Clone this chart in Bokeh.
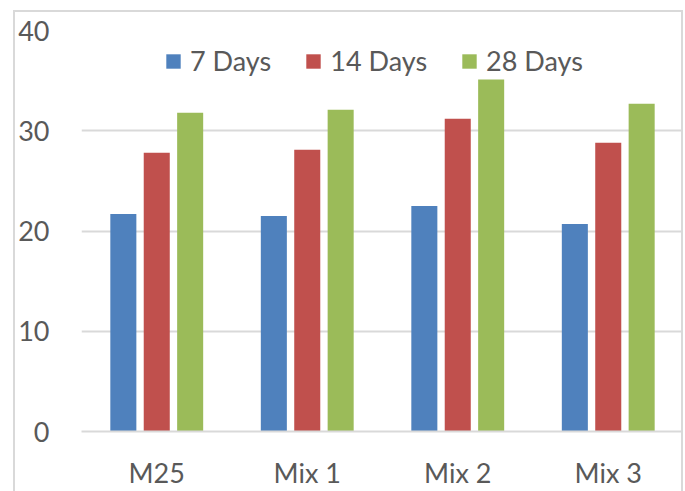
from bokeh.plotting import figure
from bokeh.models import ColumnDataSource, Range1d, FixedTicker, Legend, LegendItem, InlineStyleSheet
from bokeh.embed import file_html
from bokeh.resources import INLINE

categories = ["M25", "Mix 1", "Mix 2", "Mix 3"]
series_names = ["7 Days", "14 Days", "28 Days"]
days7 = [21.7, 21.5, 22.5, 20.7]
days14 = [27.8, 28.1, 31.2, 28.8]
days28 = [31.8, 32.1, 35.1, 32.7]
y_ticks = [0, 10, 20, 30, 40]
colors = ["#4F81BD", "#C0504D", "#9BBB59"]

FONT = "Lato"
FS = "27px"
TXT = "#595959"
GRID = "#D9D9D9"

W, H = 685, 491
LEFT, RIGHT, TOP, BOTTOM = 81, 3, 30, 57
x_end = (W - LEFT - RIGHT) / 150.5

p = figure(width=W, height=H, output_backend="svg", toolbar_location=None,
           x_range=Range1d(0, x_end), y_range=Range1d(0, 40),
           min_border_left=LEFT, min_border_right=RIGHT, min_border_top=TOP, min_border_bottom=BOTTOM)
p.outline_line_color = None
p.background_fill_color = "white"
p.border_fill_color = "white"

offsets = [-0.222, 0.0, 0.222]
items = []
for vals, name, col, off in zip([days7, days14, days28], series_names, colors, offsets):
    src = ColumnDataSource(dict(x=[i + 0.5 + off for i in range(len(categories))], top=vals))
    r = p.vbar(x="x", top="top", width=0.173, bottom=0, source=src,
               fill_color=col, line_color=None)
    items.append(LegendItem(label=name, renderers=[r]))

legend = Legend(items=items, orientation="horizontal", location=(83, 354),
                glyph_width=18, glyph_height=18, label_standoff=8, spacing=33,
                padding=0, margin=0, border_line_color=None, background_fill_alpha=0,
                label_text_font=FONT, label_text_font_size=FS, label_text_color=TXT)
p.add_layout(legend)

# y axis
p.yaxis.ticker = FixedTicker(ticks=y_ticks)
p.yaxis.axis_line_color = None
p.yaxis.major_tick_line_color = None
p.yaxis.minor_tick_line_color = None
p.yaxis.major_label_standoff = 26
p.yaxis.major_label_text_font = FONT
p.yaxis.major_label_text_font_size = FS
p.yaxis.major_label_text_color = TXT

# x axis
p.xaxis.ticker = FixedTicker(ticks=[i + 0.5 for i in range(len(categories))])
p.xaxis.major_label_overrides = {i + 0.5: c for i, c in enumerate(categories)}
p.xaxis.axis_line_color = GRID
p.xaxis.axis_line_width = 2
p.xaxis.major_tick_line_color = None
p.xaxis.major_tick_out = 0
p.xaxis.minor_tick_line_color = None
p.xaxis.major_label_standoff = 24
p.xaxis.major_label_text_font = FONT
p.xaxis.major_label_text_font_size = FS
p.xaxis.major_label_text_color = TXT

p.xgrid.grid_line_color = None
p.ygrid.grid_line_color = GRID
p.ygrid.grid_line_width = 2

# outer chart-area border (left, top, right edges)
p.stylesheets = [InlineStyleSheet(css="""
:host { position: relative; }
:host::after {
  content: ''; position: absolute; left: 13px; top: 10px; right: 2px; bottom: 0px;
  border-left: 2px solid #D9D9D9; border-top: 2px solid #D9D9D9; border-right: 2px solid #D9D9D9;
  pointer-events: none; box-sizing: border-box;
}
""")]

open("out.html", "w").write(file_html(p, INLINE))
